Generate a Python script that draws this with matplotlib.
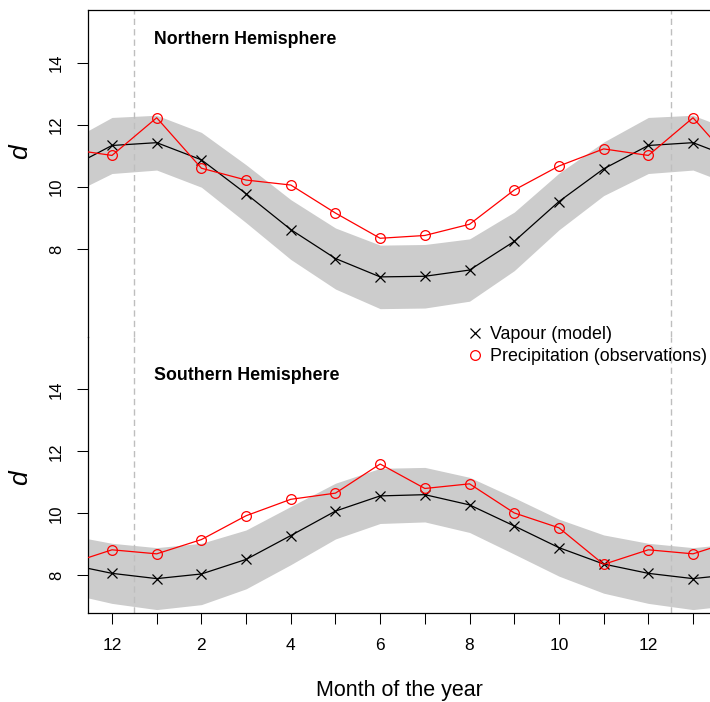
import numpy as np
import matplotlib
matplotlib.use("Agg")
import matplotlib.pyplot as plt
from matplotlib.lines import Line2D

plt.rcParams['font.family'] = ['Liberation Sans', 'DejaVu Sans']

# ---- data (Jan..Dec) ----
nh_vapour = [11.43, 10.88, 9.79, 8.64, 7.71, 7.12, 7.14, 7.34, 8.26, 9.54, 10.59, 11.34]
nh_precip = [12.23, 10.61, 10.23, 10.07, 9.17, 8.36, 8.45, 8.81, 9.91, 10.68, 11.23, 11.02]
nh_spread = [0.88, 0.88, 0.93, 0.96, 0.98, 1.02, 1.02, 1.00, 0.94, 0.91, 0.86, 0.90]
sh_vapour = [7.89, 8.04, 8.51, 9.28, 10.07, 10.56, 10.60, 10.27, 9.59, 8.89, 8.36, 8.06]
sh_precip = [8.69, 9.15, 9.92, 10.45, 10.65, 11.59, 10.80, 10.95, 10.01, 9.53, 8.35, 8.82]
sh_spread = [1.00, 0.99, 0.95, 0.94, 0.90, 0.89, 0.88, 0.89, 0.91, 0.92, 0.94, 0.97]

xtick_pos = list(range(0, 14))
xtick_labels = ['12', '', '2', '', '4', '', '6', '', '8', '', '10', '', '12', '']
ytick_pos = [8, 10, 12, 14]
titles = ['Northern Hemisphere', 'Southern Hemisphere']
legend_labels = ['Vapour (model)', 'Precipitation (observations)']

# x positions: 0 = December (previous year), 1..12 = Jan..Dec, extended cyclically
x = np.arange(-1, 15)
idx = (x - 1) % 12

W, H = 710, 702
fig = plt.figure(figsize=(W / 100, H / 100), dpi=100)


def rect(l, t, r, b):
    return [l / W, 1 - b / H, (r - l) / W, (b - t) / H]


ax1 = fig.add_axes(rect(88, 10, 710, 337))
ax2 = fig.add_axes(rect(88, 337, 710, 613))

panels = [
    (ax1, nh_vapour, nh_precip, nh_spread, (5.19, 15.69), 0.566),
    (ax2, sh_vapour, sh_precip, sh_spread, (6.78, 15.69), 0.489),
]

for ax, vap, pre, spr, ylim, ylab_y in panels:
    v = np.array(vap)[idx]
    p = np.array(pre)[idx]
    s = np.array(spr)[idx]
    ax.fill_between(x, v - s, v + s, color='#cccccc', lw=0, zorder=1)
    for xv in (0.5, 12.5):
        ax.axvline(xv, color='#bebebe', lw=1.0, dashes=(4.5, 3), zorder=2)
    ax.plot(x, v, color='black', lw=0.9, marker='x', ms=7, mew=0.9, zorder=3)
    ax.plot(x, p, color='red', lw=0.9, marker='o', ms=7, mfc='none',
            mec='red', mew=0.9, zorder=4)
    ax.set_xlim(-0.537, 13.38)
    ax.set_ylim(*ylim)
    ax.set_yticks(ytick_pos)
    ax.set_yticklabels([str(t) for t in ytick_pos], rotation=90, va='center')
    ax.tick_params(axis='y', length=7.7, width=0.75, labelsize=12, pad=9.5)
    ax.set_ylabel('d', fontsize=19, style='italic')
    ax.yaxis.set_label_coords(-0.09, ylab_y)
    ax.spines['right'].set_visible(False)
    for sp in ax.spines.values():
        sp.set_linewidth(0.9)
    ax.patch.set_visible(False)

ax1.spines['bottom'].set_visible(False)
ax1.tick_params(axis='x', bottom=False, labelbottom=False)
ax2.spines['top'].set_visible(False)
ax2.set_xticks(xtick_pos)
ax2.set_xticklabels(xtick_labels)
ax2.tick_params(axis='x', length=7.7, width=0.75, labelsize=12.5, pad=10.5)
ax2.set_xlabel('Month of the year', fontsize=15.5, labelpad=19)

fig.text(154 / W, 1 - 39 / H, titles[0], fontsize=12.8, fontweight='bold',
         ha='left', va='center')
fig.text(154 / W, 1 - 375 / H, titles[1], fontsize=12.8, fontweight='bold',
         ha='left', va='center')

handles = [
    Line2D([], [], color='black', marker='x', ls='none', ms=7, mew=0.9),
    Line2D([], [], color='red', marker='o', ls='none', ms=7, mfc='none', mew=0.9),
]
fig.legend(handles, legend_labels, loc='center left',
           bbox_to_anchor=(468 / W, 1 - 345.5 / H), frameon=False, fontsize=12.9,
           handlelength=0.8, handletextpad=0.42, labelspacing=0.28,
           borderpad=0, borderaxespad=0)

fig.savefig('out.png', dpi=100)
